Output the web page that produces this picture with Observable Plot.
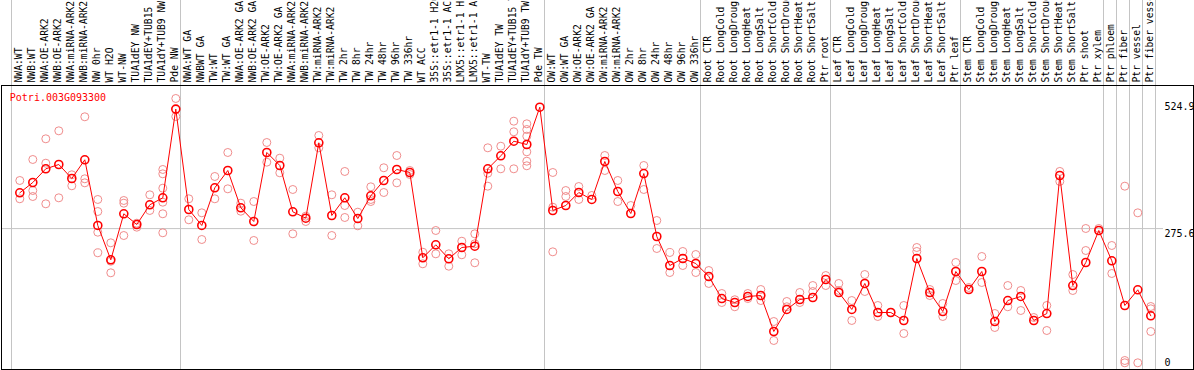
<!DOCTYPE html>
<html>
<head>
<meta charset="utf-8">
<script src="https://cdn.jsdelivr.net/npm/d3@7"></script>
<script src="https://cdn.jsdelivr.net/npm/@observablehq/plot@0.6"></script>
<style>
  html, body { margin: 0; padding: 0; background: #fff; }
  #chart svg { display: block; }
</style>
</head>
<body>
<div id="chart"></div>
<script>
const geneId = "Potri.003G093300";

const samples = [
  "NWA:WT", "NWB:WT", "NWA:OE-ARK2", "NWB:OE-ARK2", "NWA:miRNA-ARK2", "NWB:miRNA-ARK2",
  "NW 0hr", "WT H2O", "WT-NW", "TUA1dEY NW", "TUA1dEY+TUB15 NW", "TUA1dY+TUB9 NW", "Pde NW",
  "NWA:WT GA", "NWBWT GA", "TW:WT", "TW:WT GA", "NWA:OE-ARK2 GA", "NWB:OE-ARK2 GA",
  "TW:OE-ARK2", "TW:OE-ARK2 GA", "NWA:miRNA-ARK2", "NWB:miRNA-ARK2", "TW:miRNA-ARK2", "TW:miRNA-ARK2",
  "TW 2hr", "TW 8hr", "TW 24hr", "TW 48hr", "TW 96hr", "TW 336hr", "WT ACC",
  "35S::etr1-1 H2O", "35S::etr1-1 ACC", "LMX5::etr1-1 H2O", "LMX5::etr1-1 ACC",
  "WT-TW", "TUA1dEY TW", "TUA1dEY+TUB15 TW", "TUA1dY+TUB9 TW", "Pde TW",
  "OW:WT", "OW:WT GA", "OW:OE-ARK2", "OW:OE-ARK2 GA", "OW:miRNA-ARK2", "OW:miRNA-ARK2",
  "OW 2hr", "OW 8hr", "OW 24hr", "OW 48hr", "OW 96hr", "OW 336hr",
  "Root CTR", "Root LongCold", "Root LongDrought", "Root LongHeat", "Root LongSalt",
  "Root ShortCold", "Root ShortDrought", "Root ShortHeat", "Root ShortSalt", "Ptr root",
  "Leaf CTR", "Leaf LongCold", "Leaf LongDrought", "Leaf LongHeat", "Leaf LongSalt",
  "Leaf ShortCold", "Leaf ShortDrought", "Leaf ShortHeat", "Leaf ShortSalt", "Ptr leaf",
  "Stem CTR", "Stem LongCold", "Stem LongDrought", "Stem LongHeat", "Stem LongSalt",
  "Stem ShortCold", "Stem ShortDrought", "Stem ShortHeat", "Stem ShortSalt", "Ptr shoot",
  "Ptr xylem", "Ptr phloem", "Ptr fiber", "Ptr vessel", "Ptr fiber vessel"
];

const means = [
  349.1, 370.3, 398.4, 407.2, 378.5, 416.9, 282.0, 211.5, 306.0, 284.0,
  324.5, 338.8, 521.0, 314.8, 282.0, 359.4, 394.9, 318.3, 290.2, 431.9,
  405.2, 310.1, 297.0, 451.8, 302.5, 338.8, 296.3, 343.0, 374.4, 397.0,
  390.8, 215.6, 242.3, 213.6, 236.8, 239.5, 398.4, 425.1, 455.1, 448.3,
  524.9, 312.8, 323.0, 349.7, 335.4, 413.4, 351.8, 306.6, 388.7, 259.4,
  199.8, 214.2, 203.9, 177.2, 132.0, 123.8, 136.2, 138.2, 64.3, 109.5,
  130.0, 134.1, 171.1, 144.4, 109.5, 162.9, 103.3, 103.3, 86.9, 214.2,
  144.4, 105.3, 187.5, 150.5, 187.5, 84.8, 127.9, 136.2, 86.9, 101.2,
  384.6, 158.7, 206.0, 271.7, 209.5, 117.7, 149.9, 96.5
];

const replicates = [
  [374.4, 336.8], [417.5, 353.8, 341.5], [460.0, 409.9, 326.5], [476.4, 338.8], [386.1, 363.5],
  [505.2, 377.9, 369.6], [335.4, 310.7, 268.2, 225.9], [246.4, 208.6, 184.8], [333.3, 327.8, 261.4], [286.7, 278.5],
  [345.0, 312.8], [397.0, 388.1, 358.6, 329.8, 306.0, 267.0], [542.8, 505.8], [336.8, 293.7], [308.0, 253.2],
  [382.6, 336.8], [431.9, 357.3], [327.8, 311.3], [331.2, 251.2], [452.4, 412.0],
  [420.2, 390.2], [355.9, 264.9], [301.1, 290.2], [466.8, 441.5], [345.0, 261.4],
  [392.9, 323.0, 298.4], [309.3, 281.3], [361.4, 335.4, 331.2], [400.5, 349.7], [425.7, 369.6],
  [394.9, 386.7], [227.1, 203.3], [271.7, 223.8], [223.8, 198.4], [249.7, 221.8],
  [264.9, 244.4, 205.4], [441.5, 389.4, 362.7], [444.8, 398.4], [496.2, 474.4, 398.4], [490.8, 479.1, 465.4, 433.3, 414.0, 404.6],
  [], [390.8, 319.5, 227.9], [353.8, 341.5], [362.0, 335.4], [343.6],
  [425.7, 394.9], [374.4, 331.2], [323.0], [405.2, 355.9], [292.2, 234.7],
  [226.5, 185.4], [228.6, 199.8], [222.4, 185.4], [189.5, 162.9], [142.3, 123.8],
  [129.5, 115.1], [142.3, 132.0], [150.5, 127.9], [84.8, 45.8], [125.9, 115.1],
  [144.4, 123.8], [158.7, 146.4], [179.2, 158.7], [162.9, 148.5], [127.9, 86.9],
  [181.3, 146.4], [117.7, 95.1], [103.3], [117.7, 60.2], [236.8, 228.6],
  [150.5, 138.2], [121.8, 95.1], [206.0, 169.0], [154.6], [218.3, 164.9],
  [101.2, 72.5], [158.7, 115.1], [148.5, 107.4], [93.0], [117.7, 66.3],
  [393.0, 372.5], [181.3, 148.5], [275.8, 230.6], [275.8], [240.9, 183.4],
  [362.7, 4.7, 0], [308.0, 0], [115.6, 110.9, 64.3]
];

const groupBoundaries = [0, 13, 41, 53, 63, 73, 84, 85, 86, 87, 88];
const yTickTop = [524.9, 0];
const yTickMid = [275.6];

const meanData = samples.map((s, i) => ({pos: i + 0.5, sample: s, value: means[i]}));
const repData = replicates.flatMap((r, i) => r.map(v => ({pos: i + 0.5, value: v})));
const labelData = samples.map((s, i) => ({pos: i + 0.5, label: s}));

const chart = Plot.plot({
  width: 1194,
  height: 370,
  marginTop: 85,
  marginLeft: 1,
  marginRight: 1,
  marginBottom: 1,
  x: {type: "linear", domain: [0, 88], range: [11, 1155], axis: null},
  y: {type: "linear", domain: [0, 524.9], range: [362.3, 106.7], axis: null},
  style: {fontFamily: "'DejaVu Sans Mono', monospace", fontSize: "10px", background: "#fff", overflow: "hidden"},
  marks: [
    Plot.ruleX(groupBoundaries, {x: d => d, stroke: "#c4c4c4", strokeWidth: 1, insetTop: -85}),
    Plot.ruleY(yTickMid, {y: d => d, stroke: "#c4c4c4", strokeWidth: 1, insetRight: 30}),
    Plot.frame({stroke: "#000", strokeWidth: 1}),
    Plot.text(labelData, {
      x: "pos", text: "label", frameAnchor: "top", dy: -3, dx: 1,
      rotate: -90, textAnchor: "start", lineAnchor: "middle",
      fontSize: 9.7, fill: "#000"
    }),
    Plot.dot(repData, {x: "pos", y: "value", r: 4, stroke: "#f08c8c", strokeWidth: 1, fill: "none", dx: 1.8}),
    Plot.line(meanData, {x: "pos", y: "value", stroke: "#ff0000", strokeWidth: 1, dx: 1.8}),
    Plot.dot(meanData, {x: "pos", y: "value", r: 4, stroke: "#ff0000", strokeWidth: 1.6, fill: "none", dx: 1.8}),
    Plot.text([geneId], {frameAnchor: "top-left", dx: 8.3, dy: 8, lineAnchor: "top", fill: "#ff0000", fontSize: 10}),
    Plot.text(yTickTop, {y: d => d, text: d => String(d), frameAnchor: "right", dx: -29, textAnchor: "start", lineAnchor: "middle", fill: "#000", fontSize: 10}),
    Plot.text(yTickMid, {y: d => d, text: d => String(d), frameAnchor: "right", dx: -29, dy: 1, textAnchor: "start", lineAnchor: "top", fill: "#000", fontSize: 10})
  ]
});
document.getElementById("chart").appendChild(chart);
</script>
</body>
</html>
